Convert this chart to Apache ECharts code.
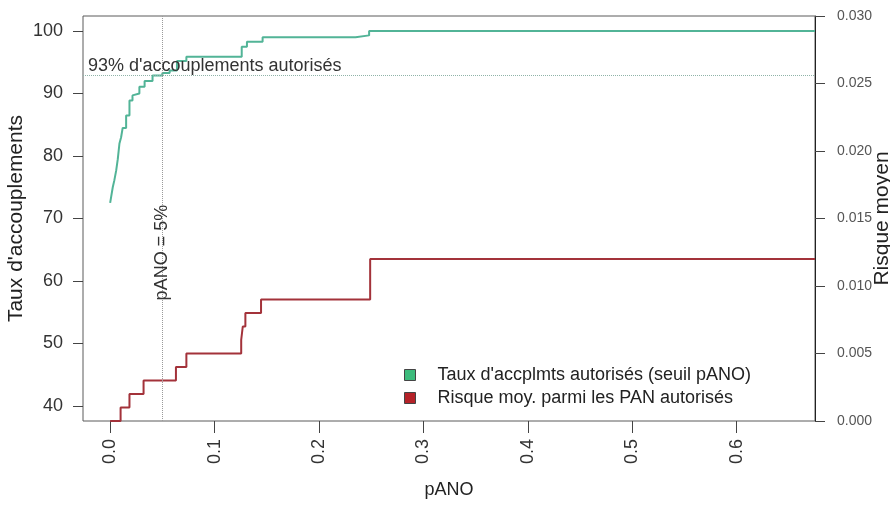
<!DOCTYPE html>
<html>
<head>
<meta charset="utf-8">
<script src="https://cdn.jsdelivr.net/npm/echarts@6/dist/echarts.min.js"></script>
<style>
html,body{margin:0;padding:0;background:#fff;}
#chart{width:890px;height:509px;}
</style>
</head>
<body>
<div id="chart"></div>
<script>
// ---- data ----
const panoGreen = [0, 0.001, 0.0025, 0.004, 0.0058, 0.0073, 0.0089, 0.0105, 0.012, 0.0153, 0.0185, 0.0214, 0.0233, 0.028, 0.033, 0.0406, 0.05, 0.057, 0.064, 0.073, 0.126, 0.131, 0.146, 0.235, 0.248, 0.675];
const tauxAutorises = [72.5, 73.5, 75.0, 76.1, 77.7, 79.5, 82.0, 83.0, 84.5, 86.5, 88.9, 89.7, 90.0, 91.1, 92.0, 92.9, 93.3, 93.7, 95.2, 95.9, 97.5, 98.3, 99.0, 99.3, 100, 100];
const panoRisk = [0, 0.010, 0.0185, 0.032, 0.063, 0.073, 0.1255, 0.127, 0.1295, 0.1445, 0.249, 0.675];
const risqueMoyen = [0, 0.001, 0.002, 0.003, 0.004, 0.005, 0.006, 0.007, 0.008, 0.009, 0.012, 0.012];
const xTicks = [0, 0.1, 0.2, 0.3, 0.4, 0.5, 0.6];
const leftTicks = [40, 50, 60, 70, 80, 90, 100];
const seuilTaux = 93;
const seuilPano = 0.05;
const seriesNames = ["Taux d'accplmts autorisés (seuil pANO)", "Risque moy. parmi les PAN autorisés"];

const FONT = 'Liberation Sans, Arial, sans-serif';
const greenData = panoGreen.map((x, i) => [x, tauxAutorises[i]]);
const redData = panoRisk.map((x, i) => [x, risqueMoyen[i]]);

const chart = echarts.init(document.getElementById('chart'), null, {renderer: 'canvas'});
chart.setOption({
  animation: false,
  backgroundColor: '#fff',
  textStyle: {fontFamily: FONT},
  grid: {left: 83, right: 75, top: 16, bottom: 88, show: true, borderColor: '#5a5a5a', borderWidth: 1, outerBoundsMode: 'none'},
  legend: {
    orient: 'vertical', left: 404, top: 366, icon: 'rect', itemWidth: 11, itemHeight: 11, itemGap: 5,
    padding: 0,
    itemStyle: {borderColor: '#444', borderWidth: 1},
    textStyle: {fontFamily: FONT, fontSize: 18, color: '#222', padding: [0, 0, 0, 17]},
    data: seriesNames
  },
  xAxis: {
    type: 'value', min: -0.026, max: 0.675,
    name: 'pANO', nameLocation: 'middle', nameGap: 60, nameMoveOverlap: false,
    nameTextStyle: {fontFamily: FONT, fontSize: 18, color: '#222'},
    axisLine: {show: false, onZero: false},
    axisTick: {show: true, length: 12, lineStyle: {color: '#444'}, customValues: xTicks},
    axisLabel: {rotate: 90, margin: 18, fontSize: 18, color: '#333', fontFamily: FONT, customValues: xTicks,
      formatter: v => v.toFixed(1)},
    splitLine: {show: false}
  },
  yAxis: [{
    type: 'value', min: 37.6, max: 102.4, position: 'left',
    name: "Taux d'accouplements", nameLocation: 'middle', nameGap: 56, nameMoveOverlap: false,
    nameTextStyle: {fontFamily: FONT, fontSize: 21, color: '#222'},
    axisLine: {show: false, onZero: false},
    axisTick: {show: true, length: 10, lineStyle: {color: '#444'}, customValues: leftTicks},
    axisLabel: {margin: 20, fontSize: 18, color: '#333', fontFamily: FONT, customValues: leftTicks},
    splitLine: {show: false}
  }, {
    type: 'value', min: 0, max: 0.030, interval: 0.005, position: 'right',
    name: 'Risque moyen', nameLocation: 'middle', nameGap: 57, nameMoveOverlap: false,
    nameTextStyle: {fontFamily: FONT, fontSize: 21, color: '#222'},
    axisLine: {show: true, onZero: false, lineStyle: {color: '#222', width: 1}},
    axisTick: {show: true, length: 10, lineStyle: {color: '#444'}},
    axisLabel: {margin: 22, fontSize: 14, color: '#555', fontFamily: FONT, formatter: v => v.toFixed(3)},
    splitLine: {show: false}
  }],
  series: [{
    name: seriesNames[0], type: 'line', yAxisIndex: 0, step: 'end', symbol: 'none',
    data: greenData,
    itemStyle: {color: '#3dbb7c'},
    lineStyle: {color: '#52b497', width: 2},
    markLine: {
      silent: true, symbol: 'none',
      data: [
        {yAxis: seuilTaux, lineStyle: {color: '#8fb3a8', type: 'dotted', width: 1},
          label: {show: true, position: 'insideStartTop', distance: [5, 0], formatter: "93% d'accouplements autorisés",
            fontFamily: FONT, fontSize: 18, color: '#333'}},
        {xAxis: seuilPano, lineStyle: {color: '#9a9a9a', type: 'dotted', width: 1}, label: {show: false}}
      ]
    },
    markPoint: {
      silent: true, symbol: 'circle', symbolSize: 0,
      data: [{coord: [seuilPano, 57.7],
        label: {show: true, position: 'inside', rotate: 90, align: 'left', verticalAlign: 'middle', offset: [-5, 0],
          formatter: 'pANO = 5%', fontFamily: FONT, fontSize: 18, color: '#333'}}]
    }
  }, {
    name: seriesNames[1], type: 'line', yAxisIndex: 1, step: 'end', symbol: 'none',
    data: redData,
    itemStyle: {color: '#b52228'},
    lineStyle: {color: '#a3323a', width: 2}
  }]
});
</script>
</body>
</html>
